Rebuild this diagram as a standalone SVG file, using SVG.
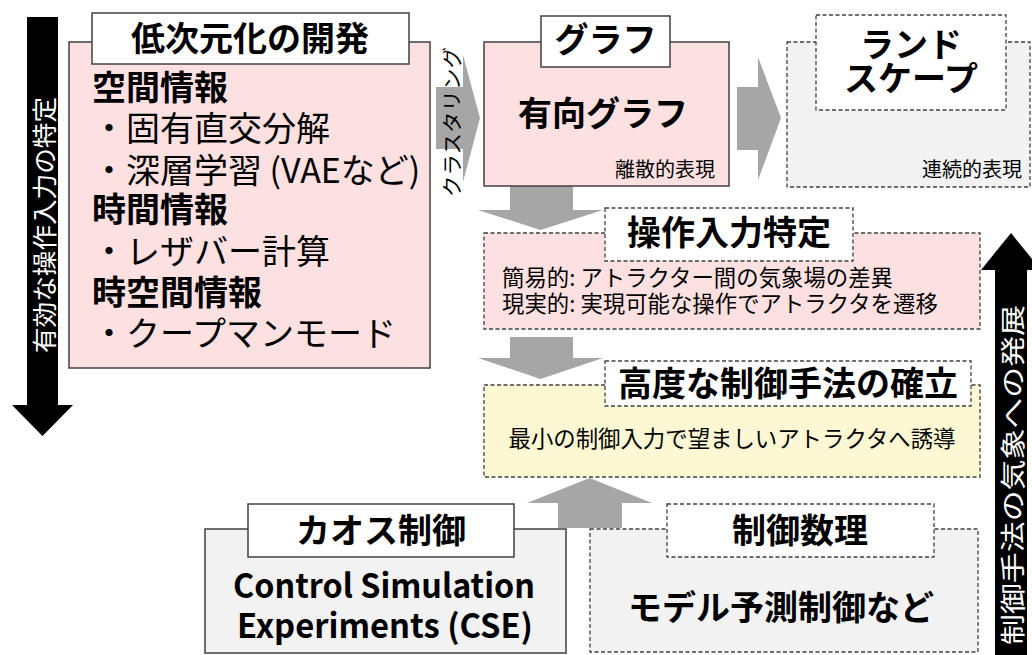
<svg xmlns="http://www.w3.org/2000/svg" width="1032" height="655" viewBox="0 0 1032 655">
<style>
text{font-family:"Noto Sans CJK JP","Noto Sans",sans-serif;fill:#000}
.h{font-size:34px;font-weight:bold}
.r{font-size:34px}
.s{font-size:20px}
.m{font-size:22.4px}
.solid{stroke:#404040;stroke-width:1.5}
.dash{stroke:#404040;stroke-width:1.3;stroke-dasharray:4 2.5}
.pink{fill:#fde1e1}
.gray{fill:#f2f2f2}
.yel{fill:#fdf8d3}
.wh{fill:#fff}
.arr{fill:#a6a6a6}
.blk{fill:#000}
.wt{fill:#fff;font-size:25px}
.c{text-anchor:middle}
.e{text-anchor:end}
</style>
<rect width="1032" height="655" fill="#fff"/>
<g id="connectors">
<polygon class="blk" points="27,17 58,17 58,405 73,405 42.5,436 12,405 27,405"/>
<text class="wt c" dominant-baseline="central" transform="translate(43,225) rotate(-90)" textLength="256" lengthAdjust="spacingAndGlyphs">有効な操作入力の特定</text>
<polygon class="blk" points="995,655 995,270 981,270 1011,233 1041,270 1027,270 1027,655"/>
<text class="wt c" dominant-baseline="central" transform="translate(1011,475) rotate(-90)" textLength="340" lengthAdjust="spacingAndGlyphs">制御手法の気象への発展</text>
<polygon class="arr" points="436,87 463,87 463,55 480,118 463,182 463,149 436,149"/>
<text class="c" style="font-size:20px" dominant-baseline="central" transform="translate(451,122) rotate(-90)" textLength="150" lengthAdjust="spacingAndGlyphs">クラスタリング</text>
<polygon class="arr" points="737,87 758,87 758,57 781,118 758,180 758,150 737,150"/>
<polygon class="arr" points="510,186 573,186 573,210 603,210 540.5,230 478,210 510,210"/>
<polygon class="arr" points="510,337 573,337 573,358 603,358 540.5,379 478,358 510,358"/>
<polygon class="arr" points="558,528 558,503 527,503 589.5,478 652,503 622,503 622,528"/>
</g>
<g id="dimred">
<rect class="pink solid" x="69" y="42" width="361" height="326"/>
<rect class="wh solid" x="92" y="13" width="317" height="51"/>
<text class="h c" x="250" y="51">低次元化の開発</text>
<text class="h" x="92" y="100">空間情報</text>
<text class="r" x="92" y="141">・固有直交分解</text>
<text class="r" x="92" y="183">・深層学習 (VAEなど)</text>
<text class="h" x="92" y="222">時間情報</text>
<text class="r" x="92" y="264">・レザバー計算</text>
<text class="h" x="92" y="305">時空間情報</text>
<text class="r" x="92" y="346">・クープマンモード</text>
</g>
<g id="graph">
<rect class="pink solid" x="484" y="42" width="245" height="144"/>
<rect class="wh solid" x="541" y="16" width="129" height="51"/>
<text class="h c" x="605.5" y="52">グラフ</text>
<text class="h c" x="603" y="126">有向グラフ</text>
<text class="s e" x="715" y="177">離散的表現</text>
</g>
<g id="landscape">
<rect class="gray dash" x="787" y="42" width="243" height="145"/>
<rect class="wh dash" x="816" y="15" width="190" height="95"/>
<text class="h c" x="911" y="57">ランド</text>
<text class="h c" x="911" y="91">スケープ</text>
<text class="s e" x="1022" y="177">連続的表現</text>
</g>
<g id="opinput">
<rect class="pink dash" x="484" y="233" width="496" height="96"/>
<rect class="wh dash" x="605" y="208" width="248" height="53"/>
<text class="h c" x="729" y="245">操作入力特定</text>
<text class="m" x="502" y="286">簡易的: アトラクター間の気象場の差異</text>
<text class="m" x="502" y="312">現実的: 実現可能な操作でアトラクタを遷移</text>
</g>
<g id="control">
<rect class="yel dash" x="484" y="385" width="496" height="92"/>
<rect class="wh dash" x="605" y="361" width="366" height="45"/>
<text class="h c" x="788" y="396">高度な制御手法の確立</text>
<text class="m c" x="732" y="447">最小の制御入力で望ましいアトラクタへ誘導</text>
</g>
<g id="chaos">
<rect class="gray solid" x="205" y="529" width="361" height="124"/>
<rect class="wh solid" x="248" y="504" width="266" height="53"/>
<text class="h c" x="381" y="543">カオス制御</text>
<text class="c" style="font-size:33px;font-weight:bold" x="384" y="598" textLength="302" lengthAdjust="spacingAndGlyphs">Control Simulation</text>
<text class="c" style="font-size:33px;font-weight:bold" x="385" y="638" textLength="296" lengthAdjust="spacingAndGlyphs">Experiments (CSE)</text>
</g>
<g id="math">
<rect class="gray dash" x="590" y="529" width="388" height="123"/>
<rect class="wh dash" x="667" y="504" width="267" height="53"/>
<text class="h c" x="800" y="543">制御数理</text>
<text class="h c" x="781" y="620">モデル予測制御など</text>
</g>
</svg>
